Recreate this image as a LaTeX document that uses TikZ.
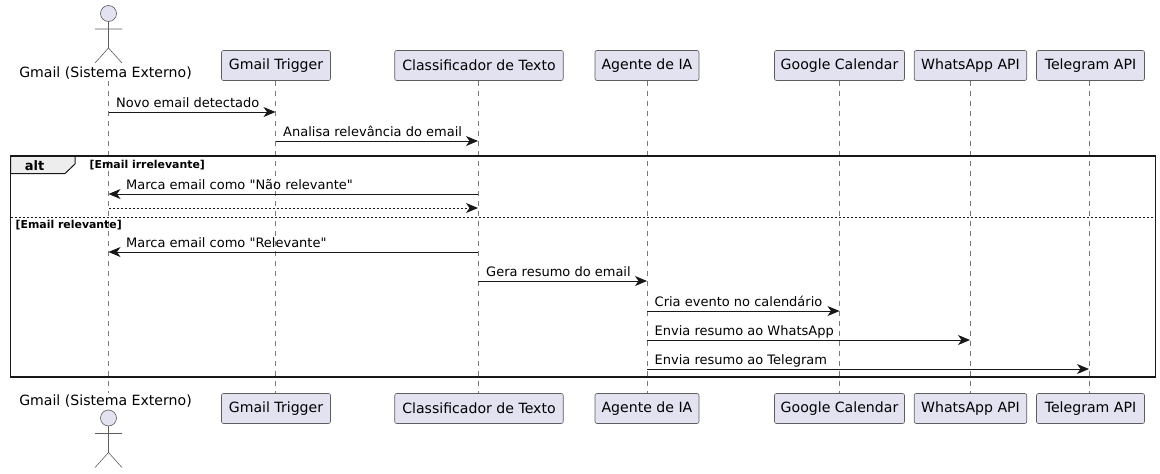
\documentclass[tikz,border=0pt]{standalone}
\usepackage{fontspec}
\newfontfamily\uifont{DejaVu Sans}
\usetikzlibrary{arrows.meta}
\definecolor{pfill}{HTML}{E2E2F0}
\definecolor{pline}{HTML}{181818}
\definecolor{lline}{HTML}{7A7A7A}
\tikzset{
  partbox/.style={draw=pline!70,fill=pfill,rounded corners=2pt,line width=0.6pt,inner sep=0pt,minimum height=30pt,text=black,font=\uifont\fontsize{14.1}{16}\selectfont},
  actorlabel/.style={inner sep=0pt,font=\uifont\fontsize{14.1}{16}\selectfont,text=black},
  lifeline/.style={draw=lline,line width=0.6pt,dash pattern=on 5pt off 5pt},
  msg/.style={draw=pline,line width=0.95pt,-{Stealth[length=12pt,width=10pt,inset=3.5pt]}},
  reply/.style={msg,dash pattern=on 2pt off 2pt},
  msgtext/.style={inner sep=0pt,anchor=base west,font=\uifont\fontsize{13}{15}\selectfont,text=black},
  guard/.style={inner sep=0pt,anchor=base west,font=\uifont\fontsize{10.9}{13}\selectfont\bfseries,text=black},
  stick/.style={draw=pline!70,line width=0.6pt},
  head/.style={draw=pline!70,fill=pfill,line width=0.6pt}
}
\begin{document}
\begin{tikzpicture}[x=1pt,y=-1pt]
\useasboundingbox (0,0) rectangle (1160,474);
% participants, top
\coordinate (at) at (108.5,81);
\coordinate (ab) at (108.5,393);
\node[actorlabel] (alabelt) at (105.5,73) {Gmail (Sistema Externo)};
\node[actorlabel] (alabelb) at (105.5,401) {Gmail (Sistema Externo)};
\node[partbox,minimum width=109pt] (gt) at (276,65.5) {Gmail Trigger};
\node[partbox,minimum width=168.5pt] (ct) at (479,65.5) {Classificador de Texto};
\node[partbox,minimum width=104pt] (it) at (647,65.5) {Agente de IA};
\node[partbox,minimum width=130pt] (ot) at (839.5,65.5) {Google Calendar};
\node[partbox,minimum width=112.5pt] (wt) at (970.5,65.5) {WhatsApp API};
\node[partbox,minimum width=108pt] (tt) at (1090.5,65.5) {Telegram API};
% participants, bottom
\node[partbox,minimum width=109pt] (gb) at (276,408.5) {Gmail Trigger};
\node[partbox,minimum width=168.5pt] (cb) at (479,408.5) {Classificador de Texto};
\node[partbox,minimum width=104pt] (ib) at (647,408.5) {Agente de IA};
\node[partbox,minimum width=130pt] (ob) at (839.5,408.5) {Google Calendar};
\node[partbox,minimum width=112.5pt] (wb) at (970.5,408.5) {WhatsApp API};
\node[partbox,minimum width=108pt] (tb) at (1090.5,408.5) {Telegram API};
% lifelines
\coordinate (lg) at (275.5,0);
\coordinate (lc) at (478,0);
\coordinate (li) at (647,0);
\coordinate (lo) at (839.5,0);
\coordinate (lw) at (970,0);
\coordinate (lt) at (1089,0);
\coordinate (la) at (108.5,0);
\draw[lifeline] (at) -- (ab);
\draw[lifeline] (lg |- gt.south) -- (lg |- gb.north);
\draw[lifeline] (lc |- ct.south) -- (lc |- cb.north);
\draw[lifeline] (li |- it.south) -- (li |- ib.north);
\draw[lifeline] (lo |- ot.south) -- (lo |- ob.north);
\draw[lifeline] (lw |- wt.south) -- (lw |- wb.north);
\draw[lifeline] (lt |- tt.south) -- (lt |- tb.north);
% actors
\foreach \n/\y in {t/13.5,b/418}{
  \draw[head] (108.5,\y) circle (8pt);
  \draw[stick] (108.5,\y+8) -- (108.5,\y+34.5) (95,\y+15.5) -- (122,\y+15.5)
    (95,\y+49.5) -- (108.5,\y+34.5) -- (122,\y+49.5);
}
% frame
\coordinate (fa) at (10.5,156);
\coordinate (fb) at (1155.5,377);
\draw[fill=black!7,draw=pline,line width=1pt] (10.5,156) -- (75,156) -- (75,164) -- (65,173.5) -- (10.5,173.5) -- cycle;
\draw[draw=pline,line width=1.5pt] (fa) rectangle (fb);
\node[inner sep=0pt,font=\uifont\fontsize{13}{15}\selectfont\bfseries] (alt) at (34.5,165.5) {alt};
\node[guard] (g1) at (89.5,168.5) {[Email irrelevante]};
\node[guard] (g2) at (15.5,228) {[Email relevante]};
\coordinate (sl) at (10.5,217);
\coordinate (sr) at (1155.5,217);
\draw[pline,line width=0.7pt,dash pattern=on 2pt off 2pt] (sl) -- (sr);
% messages
\foreach \y/\name in {112/m1,141/m2,194/m3,208/m4,252/m5,281/m6,311/m7,340/m8,369/m9}{
  \coordinate (\name) at (0,\y);
}
\draw[msg] (la |- m1) -- (lg |- m1);
\draw[msg] (lg |- m2) -- (lc |- m2);
\draw[msg] (lc |- m3) -- (la |- m3);
\draw[reply] (la |- m4) -- (lc |- m4);
\draw[msg] (lc |- m5) -- (la |- m5);
\draw[msg] (lc |- m6) -- (li |- m6);
\draw[msg] (li |- m7) -- (lo |- m7);
\draw[msg] (li |- m8) -- (lw |- m8);
\draw[msg] (li |- m9) -- (lt |- m9);
\node[msgtext] (t1) at (116,107.5) {Novo email detectado};
\node[msgtext] (t2) at (283,136.5) {Analisa relevância do email};
\node[msgtext] (t3) at (126,189.5) {Marca email como "Não relevante"};
\node[msgtext] (t5) at (126,247.5) {Marca email como "Relevante"};
\node[msgtext] (t6) at (486,276.5) {Gera resumo do email};
\node[msgtext] (t7) at (654.5,306.5) {Cria evento no calendário};
\node[msgtext] (t8) at (654.5,335.5) {Envia resumo ao WhatsApp};
\node[msgtext] (t9) at (654.5,364.5) {Envia resumo ao Telegram};
\end{tikzpicture}
\end{document}
